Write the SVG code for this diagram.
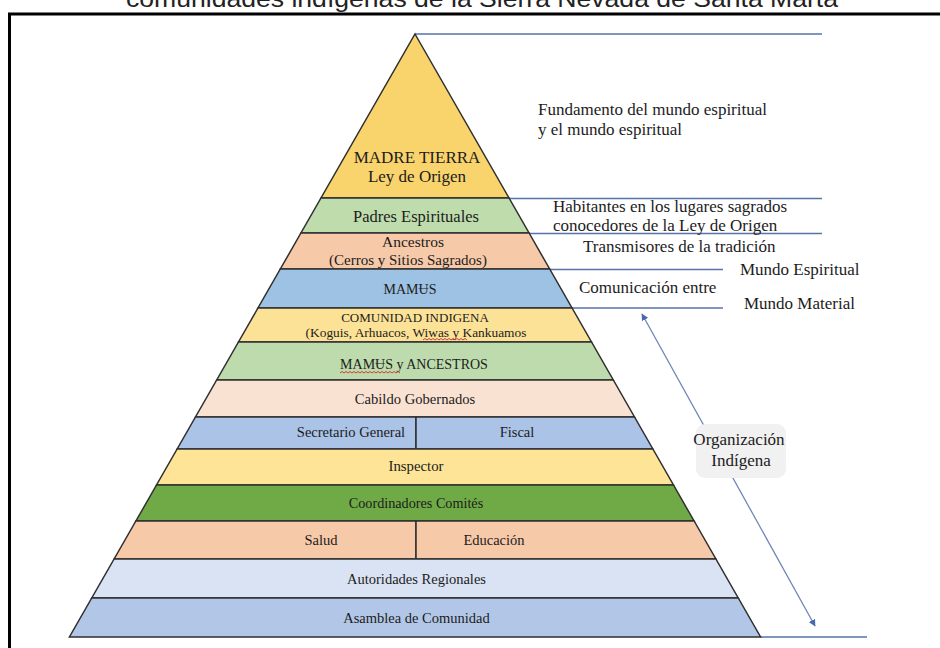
<svg xmlns="http://www.w3.org/2000/svg" width="940" height="648" viewBox="0 0 940 648">
<style>
.layer{stroke:#2f2f2f;stroke-width:1.5;stroke-linejoin:miter}
.lbl{font-family:"Liberation Serif","Times New Roman",serif;fill:#1c1c1c;text-anchor:middle}
.side{font-family:"Liberation Serif","Times New Roman",serif;fill:#1c1c1c;font-size:17px}
.guide{stroke:#5773a8;stroke-width:1.3;fill:none}
.squig{stroke:#d23a3a;stroke-width:1;fill:none}
</style>
<defs>
<marker id="ah" viewBox="0 0 10 10" refX="9" refY="5" markerWidth="7" markerHeight="7" markerUnits="userSpaceOnUse" orient="auto-start-reverse">
<path d="M0,0 L10,5 L0,10 z" fill="#4a68b0"/>
</marker>
</defs>
<rect width="940" height="648" fill="#ffffff"/>
<text x="482" y="6.5" font-family="'Liberation Sans',Arial,sans-serif" font-size="24" fill="#222" text-anchor="middle" textLength="712" lengthAdjust="spacingAndGlyphs">comunidades indígenas de la Sierra Nevada de Santa Marta</text>
<rect x="9.5" y="14" width="1000" height="1000" fill="none" stroke="#000" stroke-width="3"/>

<g id="connectors">
<line class="guide" x1="415" y1="34" x2="822" y2="34"/>
<line class="guide" x1="509" y1="198.5" x2="822" y2="198.5"/>
<line class="guide" x1="529" y1="233.5" x2="822" y2="233.5"/>
<line class="guide" x1="550" y1="269.5" x2="723" y2="269.5"/>
<line class="guide" x1="572" y1="308" x2="723" y2="308"/>
<line class="guide" x1="760.5" y1="637" x2="867" y2="637"/>
<line x1="642" y1="314" x2="815" y2="626" stroke="#6f86b8" stroke-width="1.3" marker-start="url(#ah)" marker-end="url(#ah)"/>
</g>

<g id="madre-tierra">
<polygon class="layer" points="415,34 509,198 321,198" fill="#F9D36C"/>
<text class="lbl" x="417" y="163" font-size="17">MADRE TIERRA</text>
<text class="lbl" x="417" y="181.5" font-size="17">Ley de Origen</text>
</g>
<g id="padres-espirituales">
<polygon class="layer" points="321,198 509,198 529.05,233 300.95,233" fill="#BFDCAD"/>
<text class="lbl" x="416" y="221.5" font-size="16.5">Padres Espirituales</text>
</g>
<g id="ancestros">
<polygon class="layer" points="300.95,233 529.05,233 549.68,269 280.32,269" fill="#F6C9A9"/>
<text class="lbl" x="413" y="246.5" font-size="15.5">Ancestros</text>
<text class="lbl" x="408" y="264.5" font-size="15">(Cerros y Sitios Sagrados)</text>
</g>
<g id="mamus">
<polygon class="layer" points="280.32,269 549.68,269 572.03,308 257.97,308" fill="#9DC2E4"/>
<text class="lbl" x="410" y="294" font-size="14">MAMɄS</text>
</g>
<g id="comunidad-indigena">
<polygon class="layer" points="257.97,308 572.03,308 591.51,342 238.49,342" fill="#FCE296"/>
<text class="lbl" x="415" y="322" font-size="13">COMUNIDAD INDIGENA</text>
<text class="lbl" x="416" y="337" font-size="13.4">(Koguis, Arhuacos, Wiwas y Kankuamos</text>
<path class="squig" d="M423,340 l2,-1.5 l2,1.5 l2,-1.5 l2,1.5 l2,-1.5 l2,1.5 l2,-1.5 l2,1.5 l2,-1.5 l2,1.5 l2,-1.5 l2,1.5 l2,-1.5 l2,1.5 l2,-1.5 l2,1.5 l2,-1.5 l2,1.5 l2,-1.5 l2,1.5 l2,-1.5 l2,1.5"/>
</g>
<g id="mamus-ancestros">
<polygon class="layer" points="238.49,342 591.51,342 613.29,380 216.71,380" fill="#BDDBAC"/>
<text class="lbl" x="414" y="369" font-size="14">MAMɄS y ANCESTROS</text>
<path class="squig" d="M340,373 l2,-1.5 l2,1.5 l2,-1.5 l2,1.5 l2,-1.5 l2,1.5 l2,-1.5 l2,1.5 l2,-1.5 l2,1.5 l2,-1.5 l2,1.5 l2,-1.5 l2,1.5 l2,-1.5 l2,1.5 l2,-1.5 l2,1.5 l2,-1.5 l2,1.5 l2,-1.5 l2,1.5 l2,-1.5 l2,1.5 l2,-1.5 l2,1.5 l2,-1.5 l2,1.5 l2,-1.5 l2,1.5"/>
</g>
<g id="cabildo">
<polygon class="layer" points="216.71,380 613.29,380 634.5,417 195.5,417" fill="#FAE2D3"/>
<text class="lbl" x="415" y="404" font-size="14.6">Cabildo Gobernados</text>
</g>
<g id="secretario-general">
<polygon class="layer" points="195.5,417 416,417 416,449 177.16,449" fill="#AAC3E6"/>
<text class="lbl" x="351" y="437" font-size="14.5">Secretario General</text>
</g>
<g id="fiscal">
<polygon class="layer" points="416,417 634.5,417 652.84,449 416,449" fill="#AAC3E6"/>
<text class="lbl" x="517" y="437" font-size="14.5">Fiscal</text>
</g>
<g id="inspector">
<polygon class="layer" points="177.16,449 652.84,449 673.47,485 156.53,485" fill="#FDE497"/>
<text class="lbl" x="416" y="471" font-size="14.8">Inspector</text>
</g>
<g id="coordinadores">
<polygon class="layer" points="156.53,485 673.47,485 694.1,521 135.9,521" fill="#6FAA46"/>
<text class="lbl" x="416" y="508" font-size="14.2" fill="#142008">Coordinadores Comités</text>
</g>
<g id="salud">
<polygon class="layer" points="135.9,521 416,521 416,559 114.12,559" fill="#F6C9A9"/>
<text class="lbl" x="321" y="545" font-size="14.5">Salud</text>
</g>
<g id="educacion">
<polygon class="layer" points="416,521 694.1,521 715.88,559 416,559" fill="#F6C9A9"/>
<text class="lbl" x="494" y="545" font-size="14.5">Educación</text>
</g>
<g id="autoridades-regionales">
<polygon class="layer" points="114.12,559 715.88,559 738.23,598 91.77,598" fill="#D9E3F3"/>
<text class="lbl" x="416.5" y="584" font-size="14.5">Autoridades Regionales</text>
</g>
<g id="asamblea">
<polygon class="layer" points="91.77,598 738.23,598 760.58,637 69.42,637" fill="#B2C7E7"/>
<text class="lbl" x="416.5" y="623" font-size="14.5">Asamblea de Comunidad</text>
</g>

<g id="fundamento">
<text class="side" x="538" y="115">Fundamento del mundo espiritual</text>
<text class="side" x="538" y="135">y el mundo espiritual</text>
</g>
<g id="habitantes">
<text class="side" x="553" y="211.5">Habitantes en los lugares sagrados</text>
<text class="side" x="553" y="231">conocedores de la Ley de Origen</text>
</g>
<g id="transmisores">
<text class="side" x="583" y="252">Transmisores de la tradición</text>
</g>
<g id="mundo-espiritual">
<text class="side" x="740" y="275">Mundo Espiritual</text>
</g>
<g id="comunicacion">
<text class="side" x="579" y="293">Comunicación entre</text>
</g>
<g id="mundo-material">
<text class="side" x="744" y="309">Mundo Material</text>
</g>
<g id="organizacion">
<rect x="696" y="424" width="90" height="54" rx="9" fill="#f1f1f1"/>
<text class="side" x="739" y="445" text-anchor="middle">Organización</text>
<text class="side" x="741" y="466" text-anchor="middle">Indígena</text>
</g>
</svg>
